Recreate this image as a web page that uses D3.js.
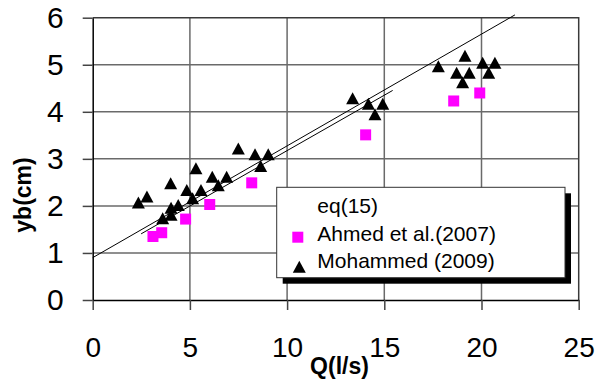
<!DOCTYPE html>
<html><head><meta charset="utf-8">
<script src="https://cdn.jsdelivr.net/npm/d3@7/dist/d3.min.js"></script>
<style>body{margin:0;background:#fff}svg{display:block}text{font-family:Arial,"Liberation Sans",sans-serif}</style>
</head><body>
<script>
// ---- data ----
const xTicks = [0, 5, 10, 15, 20, 25];
const yTicks = [0, 1, 2, 3, 4, 5, 6];
const ahmedQ = [3.10, 3.55, 4.78, 6.02, 8.18, 14.04, 18.57, 19.91];
const ahmedY = [1.35, 1.43, 1.72, 2.03, 2.49, 3.51, 4.23, 4.40];
const mohQ = [2.35, 2.79, 3.60, 4.03, 4.03, 4.01, 4.40, 4.84, 5.14, 5.31, 5.57, 6.15, 6.46, 6.89, 7.49, 8.35, 8.64, 9.03,
              13.37, 14.18, 14.52, 14.92, 17.78, 18.72, 19.03, 19.15, 19.37, 20.06, 20.37, 20.69];
const mohY = [2.07, 2.20, 1.74, 1.81, 1.96, 2.48, 2.02, 2.34, 2.16, 2.80, 2.34, 2.62, 2.44, 2.62, 3.22, 3.10, 2.85, 3.10,
              4.29, 4.17, 3.95, 4.17, 4.97, 4.83, 4.63, 5.19, 4.83, 5.04, 4.83, 5.04];
// fitted lines (start/end in data units)
const eqLineQ = [0, 21.72];
const eqLineY = [0.90, 6.06];
const eqLine2Q = [2.49, 15.43];
const eqLine2Y = [1.406, 4.454];
const legendLabels = ["eq(15)", "Ahmed et al.(2007)", "Mohammed (2009)"];

const W = 597, H = 383;
const svg = d3.select("body").append("svg").attr("width", W).attr("height", H);
const x = d3.scaleLinear().domain([0, 25]).range([92.7, 578.7]);
const y = d3.scaleLinear().domain([0, 6]).range([300, 17.7]);

// gridlines
const grid = svg.append("g");
grid.selectAll(".vx").data(xTicks.slice(1, -1)).join("line")
  .attr("x1", d => x(d)).attr("x2", d => x(d)).attr("y1", y(0)).attr("y2", y(6))
  .attr("stroke", "#6a6a6a").attr("stroke-width", 1.5);
grid.selectAll(".hy").data(yTicks.slice(1, -1)).join("line")
  .attr("y1", d => y(d)).attr("y2", d => y(d)).attr("x1", x(0)).attr("x2", x(25))
  .attr("stroke", "#6a6a6a").attr("stroke-width", 1.5);
// top / right border
svg.append("path").attr("d", `M${x(0)},${y(6)}H${x(25)}V${y(0)}`)
  .attr("fill", "none").attr("stroke", "#3a3a3a").attr("stroke-width", 1.5);

// axes
const ax = svg.append("g").attr("transform", `translate(0,${y(0)})`)
  .call(d3.axisBottom(x).tickValues(xTicks).tickFormat(d3.format("d")).tickSize(10).tickSizeOuter(0).tickPadding(27));
ax.selectAll("text").attr("font-size", 28).attr("fill", "#000").style("font-family", "Arial, 'Liberation Sans', sans-serif");
const ay = svg.append("g").attr("transform", `translate(${x(0)},0)`)
  .call(d3.axisLeft(y).tickValues(yTicks).tickFormat(d3.format("d")).tickSize(10).tickSizeOuter(0).tickPadding(19));
ay.selectAll("text").attr("font-size", 30).attr("fill", "#000").style("font-family", "Arial, 'Liberation Sans', sans-serif");
[ax, ay].forEach(a => {
  a.select(".domain").attr("stroke", "#000").attr("stroke-width", 1.5);
  a.selectAll(".tick line").attr("stroke", "#444").attr("stroke-width", 1.5);
});

// lines
const line = d3.line().x(d => x(d[0])).y(d => y(d[1]));
svg.append("path").attr("d", line(d3.zip(eqLineQ, eqLineY))).attr("stroke", "#000").attr("stroke-width", 1).attr("fill", "none");
svg.append("path").attr("d", line(d3.zip(eqLine2Q, eqLine2Y))).attr("stroke", "#000").attr("stroke-width", 1).attr("fill", "none");

// markers
const tri = (cx, cy, w, h) => `M${cx},${cy - h / 2}L${cx + w / 2},${cy + h / 2}L${cx - w / 2},${cy + h / 2}Z`;
svg.append("g").selectAll("rect").data(d3.zip(ahmedQ, ahmedY)).join("rect")
  .attr("x", d => x(d[0]) - 5.5).attr("y", d => y(d[1]) - 5.5).attr("width", 11).attr("height", 11)
  .attr("fill", "#ff00ff");
svg.append("g").selectAll("path").data(d3.zip(mohQ, mohY)).join("path")
  .attr("d", d => tri(x(d[0]), y(d[1]), 13, 12)).attr("fill", "#000");

// legend
const lg = svg.append("g");
lg.append("rect").attr("x", 282.7).attr("y", 193.3).attr("width", 288.3).attr("height", 90.4).attr("fill", "#000");
lg.append("rect").attr("x", 276.7).attr("y", 187.3).attr("width", 288.3).attr("height", 90.4)
  .attr("fill", "#fff").attr("stroke", "#333").attr("stroke-width", 1);
const ly = [212.7, 241, 268.3];
lg.selectAll("text").data(legendLabels).join("text")
  .attr("x", 317.3).attr("y", (d, i) => ly[i]).attr("font-size", 21).text(d => d);
lg.append("rect").attr("x", 292.3).attr("y", 231.7).attr("width", 11).attr("height", 11).attr("fill", "#ff00ff");
lg.append("path").attr("d", tri(299.3, 266.8, 13, 12)).attr("fill", "#000");

// titles
svg.append("text").attr("x", 339.5).attr("y", 374).attr("text-anchor", "middle")
  .attr("font-size", 23).attr("font-weight", "bold").text("Q(l/s)");
svg.append("text").attr("transform", "translate(31,195) rotate(-90)").attr("text-anchor", "middle")
  .attr("font-size", 23).attr("font-weight", "bold").text("yb(cm)");
</script>
</body></html>
